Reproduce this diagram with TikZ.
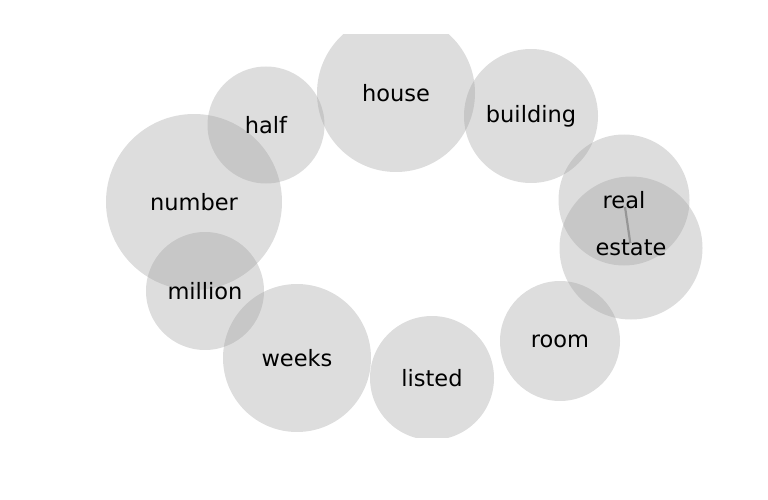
\documentclass[tikz,border=0pt]{standalone}
\usepackage{fontspec}
\setmainfont{DejaVu Sans}
\begin{document}
\begin{tikzpicture}[x=1pt,y=-1pt,
  bub/.style={circle,draw=none,fill={rgb,255:red,156;green,156;blue,156},fill opacity=0.34,inner sep=0pt,minimum size=#1},
  word/.style={inner sep=0pt,font=\fontsize{22.5}{27}\selectfont,text=black},
  link/.style={draw={rgb,255:red,150;green,150;blue,150},line width=2.2pt}]
\useasboundingbox (0,0) rectangle (768,500);
\begin{scope}
\clip (0,35) rectangle (768,437);
\node[bub=158pt] (house) at (396,93) {};
\node[bub=134pt] (building) at (531,116) {};
\node[bub=117pt] (half) at (266,125) {};
\node[bub=176pt] (number) at (194,202) {};
\node[bub=118pt] (million) at (205,291) {};
\node[bub=148pt] (weeks) at (297,358) {};
\node[bub=124pt] (listed) at (432,378) {};
\node[bub=120pt] (room) at (560,341) {};
\node[bub=131pt] (real) at (624,200) {};
\node[bub=143pt] (estate) at (631,248) {};
\draw[link,shorten <=7pt,shorten >=5pt] (real.center) -- (estate.center);
\end{scope}
\node[word] (thouse) at (house.center) {house};
\node[word] (tbuilding) at (building.center) {building};
\node[word] (thalf) at (half.center) {half};
\node[word] (tnumber) at (number.center) {number};
\node[word] (tmillion) at (million.center) {million};
\node[word] (tweeks) at (weeks.center) {weeks};
\node[word] (tlisted) at (listed.center) {listed};
\node[word] (troom) at (room.center) {room};
\node[word] (treal) at (real.center) {real};
\node[word] (testate) at (estate.center) {estate};
\end{tikzpicture}
\end{document}
